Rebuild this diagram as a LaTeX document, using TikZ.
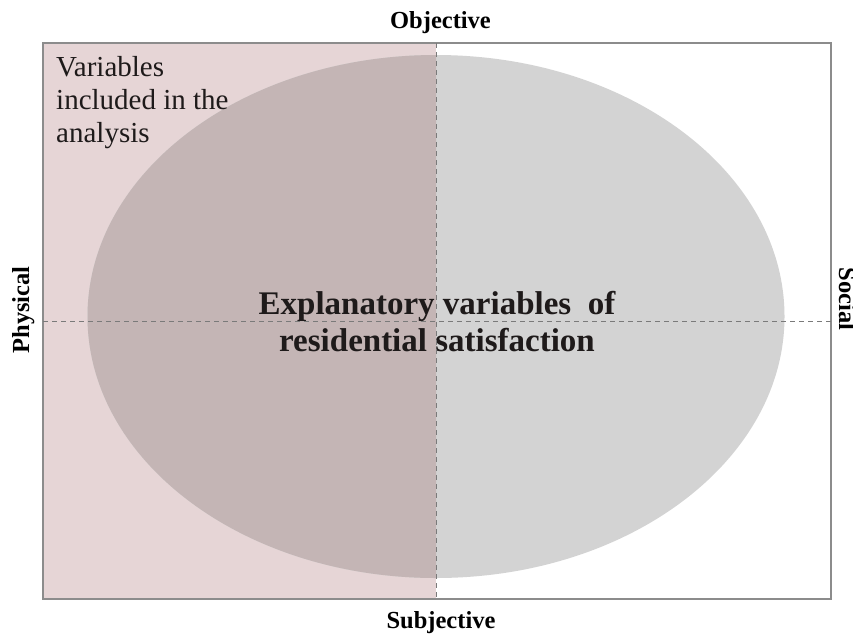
\documentclass[tikz,border=0pt]{standalone}
\usepackage{fontspec}
\setmainfont{Liberation Serif}
\definecolor{pinkfill}{HTML}{E6D5D6}
\definecolor{ovalgray}{HTML}{D3D3D3}
\definecolor{overlap}{HTML}{C4B5B5}
\definecolor{framegray}{HTML}{8C8C8C}
\definecolor{guidegray}{HTML}{7A7A7A}
\definecolor{inkdark}{HTML}{1E1A1A}
\begin{document}
\begin{tikzpicture}[x=1pt,y=-1pt,
  frame/.style={draw=framegray, line width=1.5pt},
  guide/.style={draw=guidegray, dash pattern=on 5pt off 4pt, line width=1pt},
  axislabel/.style={font=\bfseries\fontsize{24.5}{28}\selectfont, text=black,
                    inner sep=0pt, anchor=base},
  oval/.style={x radius=348.5, y radius=261.5},
]
\useasboundingbox (0,0) rectangle (853,635);

% frame corners and axis ends
\coordinate (nw) at (43,43);
\coordinate (se) at (831,599);
\coordinate (top) at (436,43);
\coordinate (bottom) at (436,599);
\coordinate (left) at (43,321);
\coordinate (right) at (831,321);
\coordinate (mid) at (436,316.5);

% shaded half: variables included in the analysis
\fill[pinkfill] (nw) rectangle (bottom);

% oval of explanatory variables
\fill[ovalgray] (mid) ellipse [oval];
\begin{scope}
  \clip (nw) rectangle (bottom);
  \fill[overlap] (mid) ellipse [oval];
\end{scope}

% outer frame
\draw[frame] (nw) rectangle (se);

% texts
\node[font=\fontsize{29}{33}\selectfont, text=inkdark, align=left, anchor=north west,
      inner sep=0pt] (included) at (56,56) {Variables\\included in the\\analysis};
\node[font=\bfseries\fontsize{33}{37}\selectfont, text=inkdark, align=center,
      inner sep=0pt] (central) at (437,322) {Explanatory variables~ of\\residential satisfaction};

\node[axislabel] (objective) at (440.5,28.5) {Objective};
\node[axislabel] (subjective) at (441,628) {Subjective};
\node[axislabel, rotate=90] (physical) at (29,310) {Physical};
\node[axislabel, rotate=-90] (social) at (839,299) {Social};

% dashed axes
\draw[guide] (top) -- (bottom);
\draw[guide] (left) -- (right);
\end{tikzpicture}
\end{document}
